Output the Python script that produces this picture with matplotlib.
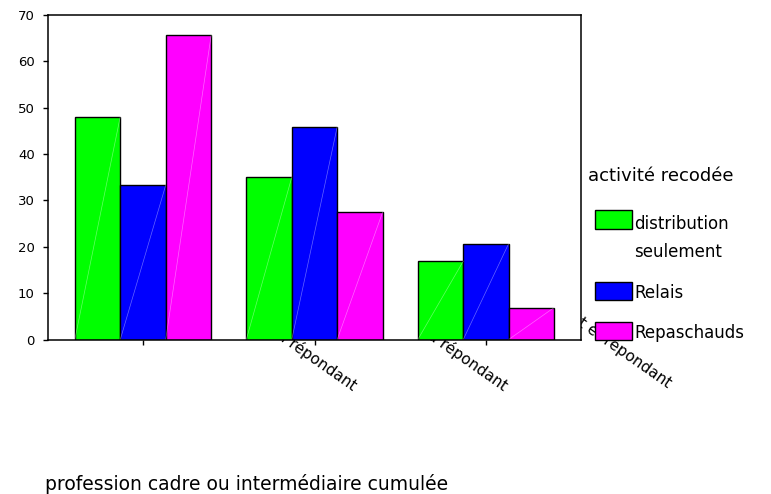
import numpy as np
import matplotlib
matplotlib.use("Agg")
import matplotlib.pyplot as plt
from matplotlib.patches import Rectangle

# categories (only the end of each label shows under the plot)
groups = ["ni conjoint ni répondant", "conjoint ou répondant", "conjoint et répondant"]
series = ["distribution\nseulement", "Relais", "Repaschauds"]

# percentages
distribution = [48.1, 35.0, 16.9]
relais = [33.3, 45.9, 20.7]
repas_chauds = [65.6, 27.5, 6.9]

colors = ["#00ff00", "#0000ff", "#ff00ff"]

W, H = 771, 494


def fx(px):
    return px / W


def fy(px):
    return 1 - px / H


plt.rcParams['font.family'] = 'DejaVu Sans'
fig = plt.figure(figsize=(W / 100, H / 100), dpi=100)
ax = fig.add_axes([fx(48), fy(339.5), fx(581) - fx(48), fy(15) - fy(339.5)])

x = np.arange(len(groups))
w = 0.265
for i, (vals, c) in enumerate(zip([distribution, relais, repas_chauds], colors)):
    bars = ax.bar(x + (i - 1) * w, vals, w, color=c, edgecolor='black', linewidth=1)
    for b in bars:                                                     # faint diagonal seen on every bar
        ax.plot([b.get_x(), b.get_x() + b.get_width()], [0, b.get_height()],
                color='white', lw=0.5, alpha=0.4)

ax.set_xlim(-0.554, 2.554)
ax.set_ylim(0, 70)
ax.set_yticks(range(0, 71, 10))
ax.set_xticks(x)
ax.set_xticklabels([])
ax.tick_params(direction='out', length=3.6, width=1, labelsize=9.5, pad=6)
for s in ax.spines.values():
    s.set_linewidth(1.1)

# rotated category labels, drawn behind the axes so the plot hides their start
label_ends = [(352, 391), (503, 391), (667, 388)]
for g, (ex, ey) in zip(groups, label_ends):
    fig.text(fx(ex), fy(ey), g, rotation=-35, rotation_mode='anchor',
             ha='right', va='baseline', fontsize=11, zorder=-1)

# legend on the right
fig.text(fx(588), fy(181), "activité recodée", fontsize=13, va='baseline')
patch_y = [(210, 229), (282, 300), (322, 340)]
label_y = [238, 293, 333]
for lab, c, (y0, y1), ly in zip(series, colors, patch_y, label_y):
    fig.add_artist(Rectangle((fx(595), fy(y1)), fx(632) - fx(595), fy(y0) - fy(y1),
                             transform=fig.transFigure, facecolor=c,
                             edgecolor='black', lw=1))
    fig.text(fx(634), fy(ly), lab, va='center', fontsize=12, linespacing=1.75)

fig.text(fx(45), fy(490), "profession cadre ou intermédiaire cumulée",
         fontsize=13.5, va='baseline')

fig.savefig('out.png', dpi=100)
